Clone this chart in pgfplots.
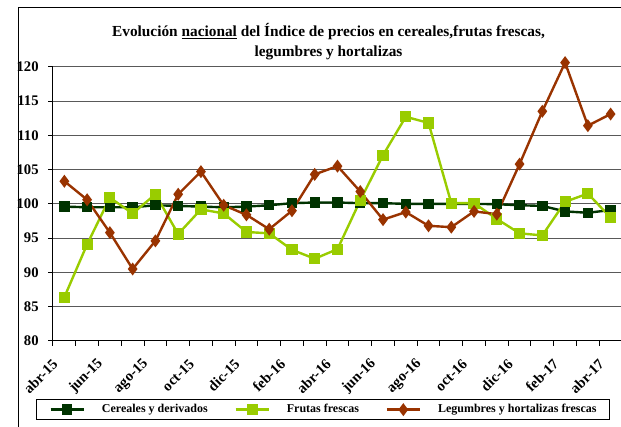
\documentclass[border=0pt]{standalone}
\usepackage{fontspec}
\setmainfont{Liberation Serif}
\usepackage{pgfplots}
\pgfplotsset{compat=1.18}
\usepackage{pgfplotstable}

\definecolor{cereal}{HTML}{003300}
\definecolor{fruta}{HTML}{99CC00}
\definecolor{legum}{HTML}{993300}

% indice mensual, abr-15 (0) .. abr-17 (24)
\pgfplotstableread{
i  cer    fru    leg
0  99.6   86.4   103.3
1  99.5   94.1   100.6
2  99.5   100.9  95.8
3  99.5   98.6   90.5
4  99.8   101.4  94.6
5  99.7   95.6   101.4
6  99.6   99.2   104.7
7  99.5   98.6   99.8
8  99.6   95.9   98.4
9  99.8   95.7   96.3
10 100.1  93.3   99.0
11 100.2  92.0   104.3
12 100.2  93.4   105.5
13 100.1  100.5  101.8
14 100.1  107.1  97.7
15 100.0  112.7  98.8
16 100.0  111.8  96.8
17 100.0  100.1  96.6
18 100.0  100.1  98.9
19 99.95  97.8   98.5
20 99.8   95.7   105.8
21 99.7   95.4   113.5
22 98.9   100.3  120.6
23 98.7   101.5  111.4
24 99.1   98.0   113.1
}\datos

\begin{document}
\begin{tikzpicture}[x=0.75pt,y=0.75pt]
\useasboundingbox (0,0) rectangle (621,427);
\draw[line width=0.75pt] (18,-5) -- (18,419) -- (630,419);
\node[font=\bfseries\fontsize{11.5}{15}\selectfont, align=center] at (328.5,385.5)
  {Evolución \underline{nacional} del Índice de precios en cereales,frutas frescas,\\legumbres y hortalizas};
\begin{axis}[
  at={(39.75pt,64.5pt)}, anchor=south west,
  scale only axis, width=426.75pt, height=205.7pt,
  xmin=-0.5, xmax=24.5, ymin=80, ymax=120,
  clip=false,
  axis x line*=bottom, axis y line*=left,
  axis line style={line width=0.75pt, -},
  tick align=outside, major tick length=3.5pt,
  tick style={black, line width=0.75pt},
  xtick={-0.5,0.5,...,24.5}, xticklabels={},
  extra x ticks={0,2,...,24},
  extra x tick labels={abr-15,jun-15,ago-15,oct-15,dic-15,feb-16,abr-16,jun-16,ago-16,oct-16,dic-16,feb-17,abr-17},
  extra x tick style={major tick length=0pt,
    xticklabel style={xshift=-6.5pt, yshift=-15pt, rotate=45, anchor=east, inner sep=0.5pt,
      font=\bfseries\fontsize{11}{12}\selectfont}},
  ytick={80,85,...,120},
  yticklabel style={xshift=-3.75pt, font=\bfseries\fontsize{11}{13}\selectfont},
  /pgf/number format/assume math mode=true,
  ymajorgrids, grid style={black!65, line width=0.75pt},
  legend columns=3,
  legend style={at={(-0.0299,-0.2125)}, anchor=north west, draw=black, line width=0.75pt,
    font=\bfseries\fontsize{9}{11}\selectfont,
    inner xsep=9.75pt, inner ysep=3.5pt,
    nodes={inner sep=0pt},
    /tikz/column sep=0pt,
    /tikz/every odd column/.append style={column sep=12.75pt},
    /tikz/every even column/.append style={column sep=20pt}},
  legend image code/.code={\draw[#1, mark repeat=2, mark phase=2] plot coordinates {(0pt,0pt) (12.4pt,0pt) (24.8pt,0pt)};},
]
\addplot[cereal, line width=1.8pt, mark=square*, mark size=3pt, mark options={solid}] table[x=i, y=cer] {\datos};
\addlegendentry{Cereales y derivados}
\addplot[fruta, line width=1.8pt, mark=square*, mark size=3.3pt, mark options={solid}] table[x=i, y=fru] {\datos};
\addlegendentry{Frutas frescas}
\addplot[legum, line width=1.8pt, mark=diamond*, mark size=3.4pt, mark options={solid}] table[x=i, y=leg] {\datos};
\addlegendentry{Legumbres y hortalizas frescas}
\end{axis}
\end{tikzpicture}
\end{document}
